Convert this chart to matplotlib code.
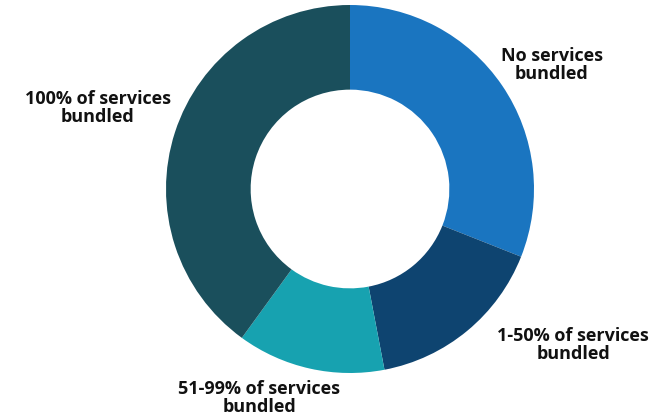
import matplotlib
matplotlib.use('Agg')
import matplotlib.pyplot as plt

labels = ['No services\nbundled', '1-50% of services\nbundled',
          '51-99% of services\nbundled', '100% of services\nbundled']
shares = [31, 16, 13, 40]
colors = ['#1a75c0', '#0e4470', '#17a2b0', '#1a4f5c']

# label centres in pixels (x from left, y from top)
label_px = [(552, 65), (573, 345), (259, 398), (98, 108)]

W, H = 657, 419
fig = plt.figure(figsize=(W / 100, H / 100), dpi=100)
cx, cy, r = 350, 189, 184
ax = fig.add_axes([(cx - r) / W, (H - cy - r) / H, 2 * r / W, 2 * r / H])
ax.pie(shares, colors=colors, startangle=90, counterclock=False, radius=1,
       wedgeprops={'width': 0.46, 'linewidth': 0})
ax.set_xlim(-1, 1)
ax.set_ylim(-1, 1)
ax.set_aspect('auto')
ax.axis('off')

for lab, (x, y) in zip(labels, label_px):
    fig.text(x / W, 1 - y / H, lab, ha='center', va='center',
             fontsize=13, fontweight='bold', family='Open Sans',
             color='#111111', linespacing=1.05)

fig.savefig('out.png', dpi=100, facecolor='white')
